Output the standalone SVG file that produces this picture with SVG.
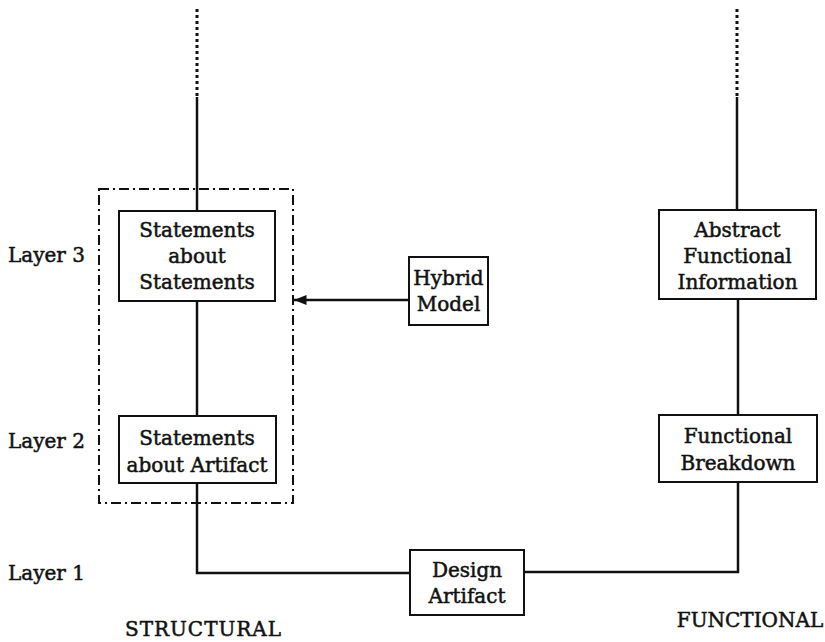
<svg xmlns="http://www.w3.org/2000/svg" width="825" height="642" viewBox="0 0 825 642">
  <style>
    .box { fill: #fff; stroke: #111; stroke-width: 2; }
    .wire { fill: none; stroke: #111; stroke-width: 2.5; }
    .dots { fill: none; stroke: #111; stroke-width: 3; stroke-dasharray: 3 3; }
    .group { fill: none; stroke: #111; stroke-width: 2; stroke-dasharray: 10 4 2 4; }
    text { font-family: "DejaVu Serif", "Liberation Serif", serif; font-size: 20px; fill: #111; stroke: #111; stroke-width: 0.5; }
    .c { text-anchor: middle; }
  </style>
  <defs>
    <marker id="head" viewBox="0 0 10 10" refX="10" refY="5" markerWidth="5" markerHeight="5" orient="auto">
      <path d="M0,1 L10,5 L0,9 Z" fill="#111"/>
    </marker>
  </defs>
  <rect width="825" height="642" fill="#fff"/>

  <!-- connectors -->
  <g id="connectors">
    <line class="dots" x1="197" y1="9" x2="197" y2="97"/>
    <line class="dots" x1="737" y1="9" x2="737" y2="97"/>
    <line class="wire" x1="197" y1="97" x2="197" y2="211"/>
    <line class="wire" x1="197" y1="301" x2="197" y2="416"/>
    <polyline class="wire" points="197,483 197,573 410,573"/>
    <polyline class="wire" points="524,572 738,572 738,482"/>
    <line class="wire" x1="738" y1="299" x2="738" y2="415"/>
    <line class="wire" x1="737" y1="97" x2="737" y2="210"/>
    <line class="wire" x1="409" y1="300" x2="294" y2="300" marker-end="url(#head)"/>
  </g>

  <!-- layer-2/3 grouping frame -->
  <rect id="structural-group" class="group" x="99" y="189" width="194" height="314"/>

  <g id="statements-about-statements">
    <rect class="box" x="119" y="211" width="156" height="90"/>
    <text class="c" x="197" y="237">Statements</text>
    <text class="c" x="197" y="263">about</text>
    <text class="c" x="197" y="289">Statements</text>
  </g>

  <g id="statements-about-artifact">
    <rect class="box" x="119" y="416" width="157" height="67"/>
    <text class="c" x="197" y="445">Statements</text>
    <text class="c" x="197" y="472">about Artifact</text>
  </g>

  <g id="hybrid-model">
    <rect class="box" x="409" y="257" width="79" height="68"/>
    <text class="c" x="448.5" y="285">Hybrid</text>
    <text class="c" x="448.5" y="311">Model</text>
  </g>

  <g id="design-artifact">
    <rect class="box" x="410" y="550" width="114" height="65"/>
    <text class="c" x="467" y="577">Design</text>
    <text class="c" x="467" y="603">Artifact</text>
  </g>

  <g id="abstract-functional-information">
    <rect class="box" x="659" y="210" width="157" height="89"/>
    <text class="c" x="737.5" y="237">Abstract</text>
    <text class="c" x="737.5" y="263">Functional</text>
    <text class="c" x="737.5" y="289">Information</text>
  </g>

  <g id="functional-breakdown">
    <rect class="box" x="659" y="415" width="158" height="67"/>
    <text class="c" x="738" y="443">Functional</text>
    <text class="c" x="738" y="470">Breakdown</text>
  </g>

  <!-- layer labels -->
  <text x="8" y="262">Layer 3</text>
  <text x="8" y="448">Layer 2</text>
  <text x="8" y="580">Layer 1</text>

  <!-- column titles -->
  <text class="c" x="203" y="636" textLength="156" lengthAdjust="spacing">STRUCTURAL</text>
  <text class="c" x="750" y="627">FUNCTIONAL</text>
</svg>
